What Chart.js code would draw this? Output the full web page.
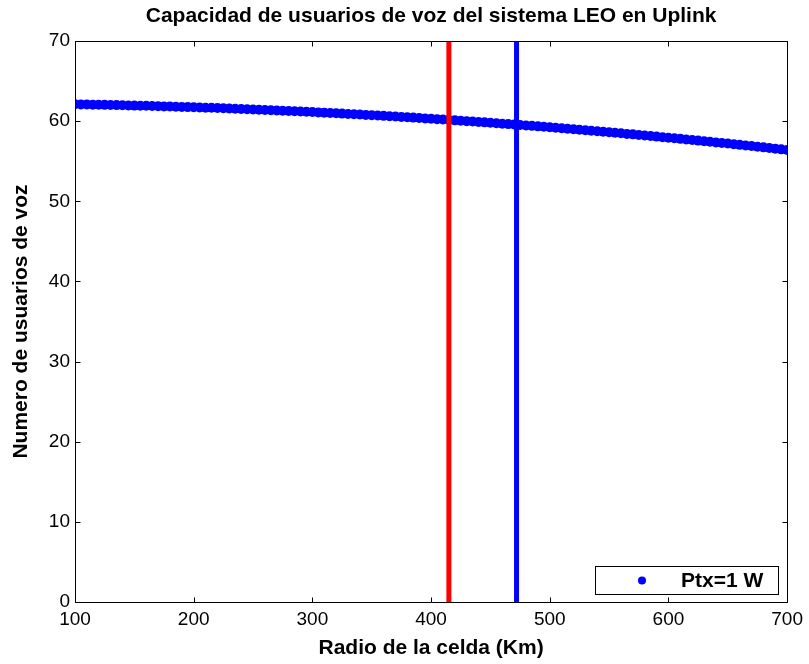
<!DOCTYPE html>
<html>
<head>
<meta charset="utf-8">
<script src="https://cdn.jsdelivr.net/npm/chart.js@4.4.0/dist/chart.umd.min.js"></script>
<style>
html,body{margin:0;padding:0;background:#fff;}
#wrap{width:809px;height:664px;position:relative;}
</style>
</head>
<body>
<div id="wrap"><canvas id="c" width="809" height="664"></canvas></div>
<script>
// ---- data ----
const chartTitle = "Capacidad de usuarios de voz del sistema LEO en Uplink";
const xTitle = "Radio de la celda (Km)";
const yTitle = "Numero de usuarios de voz";
const seriesLabel = "Ptx=1 W";
const radios = [100,105,110,115,120,125,130,135,140,145,150,155,160,165,170,175,180,185,190,195,
200,205,210,215,220,225,230,235,240,245,250,255,260,265,270,275,280,285,290,295,
300,305,310,315,320,325,330,335,340,345,350,355,360,365,370,375,380,385,390,395,
400,405,410,415,420,425,430,435,440,445,450,455,460,465,470,475,480,485,490,495,
500,505,510,515,520,525,530,535,540,545,550,555,560,565,570,575,580,585,590,595,
600,605,610,615,620,625,630,635,640,645,650,655,660,665,670,675,680,685,690,695,700];
const usuarios = [62.10,62.09,62.07,62.06,62.04,62.03,62.01,62.00,61.98,61.96,61.94,61.93,61.91,61.89,61.87,61.84,61.82,61.80,61.78,61.75,
61.73,61.71,61.68,61.66,61.63,61.60,61.57,61.55,61.52,61.49,61.46,61.43,61.40,61.37,61.33,61.30,61.27,61.23,61.20,61.17,
61.13,61.09,61.06,61.02,60.98,60.94,60.90,60.86,60.82,60.78,60.74,60.70,60.66,60.61,60.57,60.53,60.48,60.44,60.39,60.34,
60.30,60.25,60.20,60.15,60.10,60.05,60.00,59.95,59.90,59.85,59.79,59.74,59.68,59.63,59.57,59.52,59.46,59.41,59.35,59.29,
59.23,59.17,59.11,59.05,58.99,58.93,58.87,58.80,58.74,58.68,58.61,58.55,58.48,58.41,58.35,58.28,58.21,58.14,58.07,58.00,
57.93,57.86,57.79,57.72,57.65,57.57,57.50,57.42,57.35,57.27,57.20,57.12,57.04,56.96,56.89,56.81,56.73,56.65,56.57,56.48,56.40];
const redLineX = [415, 415];
const blueLineX = [472, 472];
const vLineY = [0, 70];
const xTicks = [100,200,300,400,500,600,700];
const yTicks = [0,10,20,30,40,50,60,70];

// ---- chart ----
const FONT = "'Liberation Sans', Arial, Helvetica, sans-serif";
const curvePts = radios.map((r,i)=>({x:r,y:usuarios[i]}));
const redPts = redLineX.map((x,i)=>({x:x,y:vLineY[i]}));
const bluePts = blueLineX.map((x,i)=>({x:x,y:vLineY[i]}));

const boxPlugin = {
  id:'boxTicks',
  afterLayout(chart){
    // centre the title over the axes, as MATLAB does
    if (chart.titleBlock) {
      chart.titleBlock.left = chart.chartArea.left;
      chart.titleBlock.right = chart.chartArea.right;
    }
  },
  afterDatasetsDraw(chart){
    const {ctx, chartArea:a, scales:{x,y}} = chart;
    ctx.save();
    ctx.strokeStyle='#000'; ctx.lineWidth=1;
    ctx.beginPath();
    const L=Math.round(a.left)+0.5, R=Math.round(a.right)+0.5, T=Math.round(a.top)+0.5, B=Math.round(a.bottom)+0.5;
    ctx.rect(L,T,R-L,B-T);
    const tl=5;
    xTicks.forEach(v=>{const p=Math.round(x.getPixelForValue(v))+0.5; ctx.moveTo(p,B); ctx.lineTo(p,B-tl); ctx.moveTo(p,T); ctx.lineTo(p,T+tl);});
    yTicks.forEach(v=>{const p=Math.round(y.getPixelForValue(v))+0.5; ctx.moveTo(L,p); ctx.lineTo(L+tl,p); ctx.moveTo(R,p); ctx.lineTo(R-tl,p);});
    ctx.stroke();
    ctx.restore();
  },
  afterDraw(chart){
    // legend box inside axes (bottom-right), content from dataset 0
    const {ctx} = chart;
    const ds = chart.data.datasets[0];
    const bx1=595.5, bx2=778.5, by1=566.5, by2=594.5;
    ctx.save();
    ctx.fillStyle='#fff';
    ctx.fillRect(bx1,by1,bx2-bx1,by2-by1);
    ctx.strokeStyle='#000'; ctx.lineWidth=1;
    ctx.strokeRect(bx1,by1,bx2-bx1,by2-by1);
    ctx.fillStyle=ds.pointBackgroundColor;
    ctx.beginPath(); ctx.arc(642,580.5,4,0,Math.PI*2); ctx.fill();
    ctx.fillStyle='#000';
    ctx.font="bold 21px "+FONT;
    ctx.textBaseline='middle'; ctx.textAlign='left';
    ctx.fillText(ds.label, 681, 581);
    ctx.restore();
  }
};

new Chart(document.getElementById('c'), {
  type:'scatter',
  data:{
    datasets:[
      {label:seriesLabel, data:curvePts, showLine:false, pointRadius:5, pointHoverRadius:5,
       pointBackgroundColor:'#0000ff', pointBorderWidth:0, borderColor:'#0000ff', order:2},
      {label:'r1', data:redPts, showLine:true, pointRadius:0, borderColor:'#ff0000', borderWidth:5, order:1},
      {label:'r2', data:bluePts, showLine:true, pointRadius:0, borderColor:'#0000ff', borderWidth:5, order:1}
    ]
  },
  options:{
    responsive:false, animation:false, devicePixelRatio:1,
    layout:{padding:{left:0,right:20,top:0,bottom:0}},
    plugins:{
      legend:{display:false}, tooltip:{enabled:false},
      title:{display:true, text:chartTitle, color:'#000',
        font:{family:FONT, size:21, weight:'bold', lineHeight:1.2}, padding:{top:3.5,bottom:12.3}}
    },
    scales:{
      x:{type:'linear', min:100, max:700,
        afterFit(s){s.height=62;},
        afterBuildTicks(s){s.ticks=xTicks.map(v=>({value:v}));},
        ticks:{color:'#000', font:{family:FONT,size:19}, padding:6, maxRotation:0},
        grid:{display:false, drawTicks:false}, border:{display:false},
        title:{display:true, text:xTitle, color:'#000', font:{family:FONT,size:21,weight:'bold',lineHeight:1.2}, padding:{top:0,bottom:3.4}}
      },
      y:{type:'linear', min:0, max:70,
        afterFit(s){s.width=75;},
        afterBuildTicks(s){s.ticks=yTicks.map(v=>({value:v}));},
        ticks:{color:'#000', font:{family:FONT,size:19}, padding:5},
        grid:{display:false, drawTicks:false}, border:{display:false},
        title:{display:true, text:yTitle, color:'#000', font:{family:FONT,size:21,weight:'bold',lineHeight:1.2}, padding:{top:8.4,bottom:0}}
      }
    }
  },
  plugins:[boxPlugin]
});
</script>
</body>
</html>
